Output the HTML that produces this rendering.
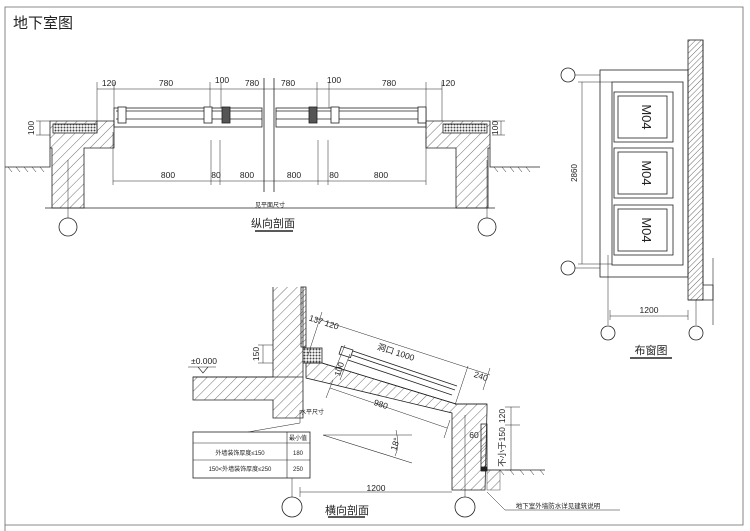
<!DOCTYPE html>
<html><head><meta charset="utf-8"><style>
body{margin:0;background:#fff}
svg{display:block}
text{font-family:"Liberation Sans","Noto Sans CJK SC",sans-serif;fill:#222}
</style></head><body>
<svg width="750" height="531" viewBox="0 0 750 531" xmlns="http://www.w3.org/2000/svg">
<defs>
<pattern id="h" width="7" height="7" patternUnits="userSpaceOnUse" patternTransform="rotate(45)">
<line x1="0" y1="0" x2="0" y2="7" stroke="#333" stroke-width="0.7"/></pattern>
<pattern id="d" width="4" height="4" patternUnits="userSpaceOnUse" patternTransform="rotate(45)">
<line x1="0" y1="0" x2="0" y2="4" stroke="#444" stroke-width="0.8"/></pattern>
<pattern id="g" width="3" height="3" patternUnits="userSpaceOnUse">
<rect width="3" height="3" fill="#fff"/><circle cx="1.5" cy="1.5" r="1" fill="#444"/></pattern>
</defs>
<g fill="none" stroke="#222" stroke-width="0.8">
<polyline points="5,531 5,7 743,7 743,525 5,525" stroke="#666"/>

<line x1="97" y1="89" x2="442" y2="89" stroke-width="0.5"/>
<g stroke-width="0.5">
<line x1="97" y1="82" x2="97" y2="121"/><line x1="114" y1="82" x2="114" y2="108"/>
<line x1="210" y1="82" x2="210" y2="108"/><line x1="221" y1="82" x2="221" y2="108"/>
<line x1="317" y1="82" x2="317" y2="108"/><line x1="329" y1="82" x2="329" y2="108"/>
<line x1="426" y1="82" x2="426" y2="108"/><line x1="442" y1="82" x2="442" y2="121"/>
</g>
<line x1="264" y1="78" x2="264" y2="192"/><line x1="274" y1="78" x2="274" y2="192"/>
<g>
<rect x="114" y="108" width="148" height="19" fill="#fff"/>
<line x1="116" y1="111" x2="262" y2="111"/><line x1="116" y1="119" x2="262" y2="119"/>
<rect x="276" y="108" width="150" height="19" fill="#fff"/>
<line x1="276" y1="111" x2="424" y2="111"/><line x1="276" y1="119" x2="424" y2="119"/>
</g>
<g fill="#fff">
<rect x="118" y="107" width="8" height="16"/><rect x="204" y="107" width="8" height="16"/>
<rect x="331" y="107" width="8" height="16"/><rect x="418" y="107" width="8" height="16"/>
</g>
<rect x="222" y="107" width="8" height="16" fill="#555"/>
<rect x="309" y="107" width="8" height="16" fill="#555"/>
<path d="M50,121 H114 V148 H84 V208 H52 V148 H50 Z" fill="url(#h)"/>
<rect x="53" y="124" width="44" height="9" fill="url(#g)"/>
<line x1="97" y1="121" x2="97" y2="133"/>
<path d="M490,121 H426 V148 H456 V208 H488 V148 H490 Z" fill="url(#h)"/>
<rect x="443" y="124" width="44" height="9" fill="url(#g)"/>
<line x1="40" y1="121" x2="40" y2="135" stroke-width="0.5"/>
<line x1="36" y1="121" x2="50" y2="121" stroke-width="0.5"/><line x1="36" y1="135" x2="50" y2="135" stroke-width="0.5"/>
<line x1="501" y1="121" x2="501" y2="135" stroke-width="0.5"/>
<line x1="492" y1="121" x2="505" y2="121" stroke-width="0.5"/><line x1="492" y1="135" x2="505" y2="135" stroke-width="0.5"/>
<polyline points="5,167 50,167 50,148"/>
<polyline points="490,148 490,167 540,167"/>
<g stroke-width="0.5"><path d="M8,167l4,5M16,167l4,5M24,167l4,5M32,167l4,5M40,167l4,5M494,167l4,5M502,167l4,5M510,167l4,5M518,167l4,5M526,167l4,5"/></g>
<line x1="45" y1="208" x2="495" y2="208"/>
<line x1="113" y1="181" x2="426" y2="181" stroke-width="0.5"/>
<g stroke-width="0.5">
<line x1="113" y1="132" x2="113" y2="185"/><line x1="211" y1="140" x2="211" y2="185"/>
<line x1="220" y1="140" x2="220" y2="185"/><line x1="318" y1="140" x2="318" y2="185"/>
<line x1="328" y1="140" x2="328" y2="185"/><line x1="426" y1="132" x2="426" y2="185"/>
</g>
<line x1="68" y1="160" x2="68" y2="218" stroke-width="0.5"/>
<line x1="487" y1="160" x2="487" y2="218" stroke-width="0.5"/>
<circle cx="68" cy="227" r="9"/><circle cx="487" cy="227" r="9"/>
<line x1="255" y1="231" x2="293" y2="231" stroke-width="1.5"/>

<path d="M273,287 V377 H193 V400 H273 V418 H303 V287" fill="url(#h)"/>
<path d="M193,377 H303" />
<rect x="301" y="287" width="5" height="60" fill="url(#d)"/>
<rect x="303" y="348" width="19" height="15" fill="url(#g)"/>
<path d="M306,363 L322,363 L456,404 L487,404 L487,410 L485,490 L452,490 L452,413 L306,378 Z" fill="url(#h)"/>
<path d="M306,363 L322,363 L456,404 L487,404" />
<rect x="481" y="424" width="6" height="46" fill="url(#d)"/>
<rect x="481" y="467" width="6" height="4" fill="#222"/>
<path d="M350,350 L457,386 M352,355 L455,390 M348,360 L452,395"/>
<rect x="340" y="348" width="12" height="8" fill="#fff" transform="rotate(18 346 352)"/>
<path d="M315,318 L490,375" stroke-width="0.5"/>
<path d="M322,312 L308,355 M468,366 L455,405 M490,368 L483,390" stroke-width="0.5"/>
<path d="M330,388 L447,428" stroke-width="0.5"/>
<path d="M333,380 L326,398 M450,420 L444,438" stroke-width="0.5"/>
<path d="M345,345 L335,370 M350,354 L340,380" stroke-width="0.5"/>
<path d="M263,345 V363 M258,345 H273 M258,363 H273" stroke-width="0.5"/>
<path d="M188,367 H216 M198,367 l5,6 l5,-6" stroke-width="0.6"/>
<line x1="487" y1="470" x2="545" y2="470"/>
<rect x="487" y="470" width="13" height="20" fill="url(#h)" stroke-width="0.4"/>
<g stroke-width="0.5"><path d="M500,470l4,5M510,470l4,5M520,470l4,5M530,470l4,5M540,470l4,5"/></g>
<path d="M511,407 V470 M505,407 H520 M505,425 H520 M505,470 H520" stroke-width="0.5"/>
<path d="M300,492 H452 M300,487 V497" stroke-width="0.5"/>
<line x1="292" y1="478" x2="292" y2="497" stroke-width="0.5"/>
<line x1="465" y1="415" x2="465" y2="497" stroke-width="0.5"/>
<circle cx="292" cy="507" r="10"/><circle cx="465" cy="507" r="10"/>
<path d="M323,435 H412 M323,435 L412,463" stroke-width="0.6"/>
<path d="M396,430 Q400,447 395,456" stroke-width="0.5"/>
<rect x="193" y="432" width="117" height="46"/>
<path d="M193,443 H310 M193,460 H310 M287,432 V478" stroke-width="0.6"/>
<path d="M248,432 L300,423 M300,423 V410" stroke-width="0.5"/>
<line x1="328" y1="517" x2="365" y2="517" stroke-width="1.5"/>
<path d="M487,492 L505,510 H620" stroke-width="0.5"/>

<rect x="688" y="40" width="15" height="260" fill="url(#d)"/>
<path d="M703,40 V285 H713 V300 H688" />
<line x1="713" y1="258" x2="713" y2="325" stroke-width="0.6"/>
<rect x="600" y="70" width="88" height="207"/>
<rect x="612" y="82" width="71" height="183"/>
<g>
<rect x="614" y="92" width="59" height="50"/><rect x="618" y="96" width="49" height="42"/>
<rect x="614" y="148" width="59" height="50"/><rect x="618" y="152" width="49" height="42"/>
<rect x="614" y="205" width="59" height="50"/><rect x="618" y="209" width="49" height="42"/>
</g>
<circle cx="568" cy="75" r="7"/><circle cx="568" cy="268" r="7"/>
<path d="M575,75 H600 M575,268 H600" stroke-width="0.5"/>
<path d="M582,82 V264 M578,82 H612 M578,264 H612" stroke-width="0.5"/>
<path d="M608,255 V325 M696,300 V325" stroke-width="0.5"/>
<path d="M610,316 H688 M610,310 V320 M688,310 V320" stroke-width="0.5"/>
<circle cx="608" cy="333" r="7"/><circle cx="696" cy="333" r="7"/>
<line x1="630" y1="358" x2="672" y2="358" stroke-width="1.5"/>
</g>

<g font-size="8.5" text-anchor="middle">
<text x="13" y="28" font-size="15" text-anchor="start">地下室图</text>
<text x="109" y="86">120</text><text x="166" y="86">780</text><text x="222" y="83">100</text>
<text x="252" y="86">780</text><text x="288" y="86">780</text><text x="334" y="83">100</text>
<text x="389" y="86">780</text><text x="448" y="86">120</text>
<text x="168" y="178">800</text><text x="216" y="178">80</text><text x="247" y="178">800</text>
<text x="294" y="178">800</text><text x="334" y="178">80</text><text x="381" y="178">800</text>
<text x="270" y="207" font-size="6">见平面尺寸</text>
<text x="273" y="227" font-size="11">纵向剖面</text>
<text x="34" y="128" transform="rotate(-90 34 128)">100</text>
<text x="498" y="128" transform="rotate(-90 498 128)">100</text>
<text x="259" y="354" transform="rotate(-90 259 354)">150</text>
<text x="204" y="364">±0.000</text>
<text x="395" y="355" transform="rotate(18 395 355)">洞口 1000</text>
<text x="380" y="407" transform="rotate(18 380 407)">980</text>
<text x="323" y="325" transform="rotate(18 323 325)">137 120</text>
<text x="480" y="379" transform="rotate(18 480 379)">240</text>
<text x="342" y="370" transform="rotate(-72 342 370)">100</text>
<text x="505" y="416" transform="rotate(-90 505 416)">120</text>
<text x="505" y="447" transform="rotate(-90 505 447)">不小于150</text>
<text x="474" y="438">60</text>
<text x="376" y="491">1200</text>
<text x="398" y="445" transform="rotate(-72 398 445)">18°</text>
<text x="312" y="414" font-size="6">水平尺寸</text>
<text x="298" y="440" font-size="6">最小值</text>
<text x="240" y="455" font-size="6">外墙装饰厚度≤150</text><text x="298" y="455" font-size="6">180</text>
<text x="240" y="471" font-size="6">150&lt;外墙装饰厚度≤250</text><text x="298" y="471" font-size="6">250</text>
<text x="347" y="514" font-size="11">横向剖面</text>
<text x="558" y="508" font-size="6.5">地下室外墙防水详见建筑说明</text>
<text x="577" y="173" transform="rotate(-90 577 173)" font-size="8">2860</text>
<text x="649" y="313">1200</text>
<text x="651" y="354" font-size="11">布窗图</text>
<text x="642" y="117" font-size="13" transform="rotate(90 642 117)">M04</text>
<text x="642" y="173" font-size="13" transform="rotate(90 642 173)">M04</text>
<text x="642" y="230" font-size="13" transform="rotate(90 642 230)">M04</text>
</g>
</svg>
</body></html>
